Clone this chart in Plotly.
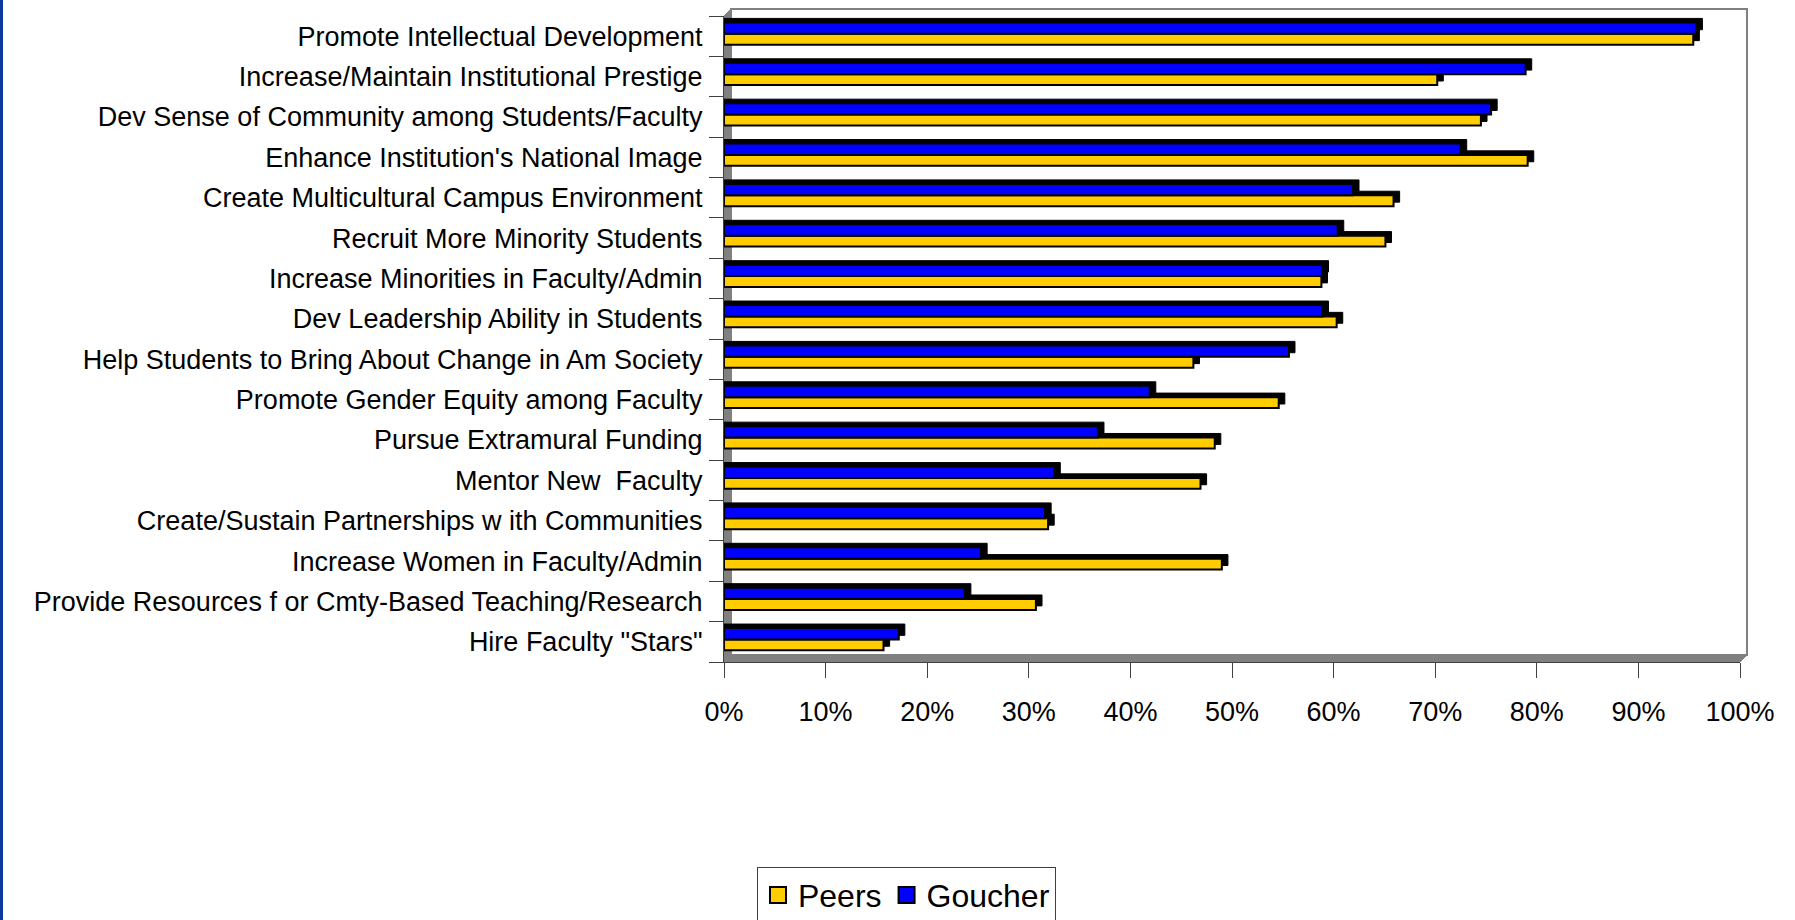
import plotly.graph_objects as go

# categories listed top to bottom as they appear in the chart
categories = [
    "Promote Intellectual Development",
    "Increase/Maintain Institutional Prestige",
    "Dev Sense of Community among Students/Faculty",
    "Enhance Institution's National Image",
    "Create Multicultural Campus Environment",
    "Recruit More Minority Students",
    "Increase Minorities in Faculty/Admin",
    "Dev Leadership Ability in Students",
    "Help Students to Bring About Change in Am Society",
    "Promote Gender Equity among Faculty",
    "Pursue Extramural Funding",
    "Mentor New  Faculty",
    "Create/Sustain Partnerships w ith Communities",
    "Increase Women in Faculty/Admin",
    "Provide Resources f or Cmty-Based Teaching/Research",
    'Hire Faculty "Stars"',
]
peers = [95.4, 70.2, 74.5, 79.1, 65.9, 65.1, 58.8, 60.3, 46.2, 54.6, 48.3, 46.9, 31.9, 49.0, 30.7, 15.7]
goucher = [95.7, 78.9, 75.5, 72.5, 61.9, 60.4, 58.9, 58.9, 55.6, 41.9, 36.8, 32.5, 31.6, 25.3, 23.7, 17.2]
x_ticks = list(range(0, 101, 10))

PEERS_COLOR = "#FFCC00"
GOUCHER_COLOR = "#0000FF"
FONT = "Arial, Liberation Sans, sans-serif"

W, H = 1795, 920
M_L, M_R, M_T, M_B = 724, 55, 16, 258
PLOT_W = W - M_L - M_R
PLOT_H = H - M_T - M_B
DX = 7 / PLOT_W  # 3d depth in paper units
DY = 7 / PLOT_H
DEPTH_X = 0.6  # how far the dark back face sticks out, in %

# plotly puts the first category at the bottom, so flip the lists
cats = categories[::-1]
peers_v = peers[::-1]
goucher_v = goucher[::-1]


def _add_bar(fig, values, name, color, offset, width):
    """Front face plus a dark back face shifted up/right for a 3d look."""
    fig.add_trace(
        go.Bar(
            y=cats,
            x=[v + DEPTH_X for v in values],
            orientation="h",
            base=0,
            offset=offset + 0.1,
            width=width,
            marker={"color": "black", "line": {"color": "black", "width": 1}},
            hoverinfo="skip",
            showlegend=False,
        )
    )
    fig.add_trace(
        go.Bar(
            y=cats,
            x=values,
            orientation="h",
            name=name,
            offset=offset,
            width=width,
            marker={"color": color, "line": {"color": "black", "width": 2}},
            showlegend=False,
        )
    )
    # legend entry with a bigger square swatch
    fig.add_trace(
        go.Scatter(
            x=[None],
            y=[None],
            mode="markers",
            name=name,
            marker={"symbol": "square", "size": 16, "color": color, "line": {"color": "black", "width": 2}},
        )
    )


fig = go.Figure()
_add_bar(fig, peers_v, "Peers", PEERS_COLOR, -0.21, 0.27)
_add_bar(fig, goucher_v, "Goucher", GOUCHER_COLOR, 0.06, 0.28)

wall_gray = "#808080"
shapes = [
    # back wall outline
    {
        "type": "rect", "xref": "paper", "yref": "paper",
        "x0": DX, "x1": 1 + DX, "y0": DY, "y1": 1 + DY,
        "line": {"color": wall_gray, "width": 2}, "layer": "below",
    },
    # left wall
    {
        "type": "path", "xref": "paper", "yref": "paper",
        "path": f"M 0,0 L 0,1 L {DX},{1 + DY} L {DX},{DY} Z",
        "fillcolor": wall_gray, "line": {"color": wall_gray, "width": 1}, "layer": "below",
    },
    # floor
    {
        "type": "path", "xref": "paper", "yref": "paper",
        "path": f"M 0,0 L 1,0 L {1 + DX},{DY} L {DX},{DY} Z",
        "fillcolor": wall_gray, "line": {"color": wall_gray, "width": 1}, "layer": "below",
    },
    # blue strip on the left edge of the slide
    {
        "type": "rect", "xref": "paper", "yref": "paper",
        "x0": -M_L / PLOT_W, "x1": (3 - M_L) / PLOT_W,
        "y0": -M_B / PLOT_H, "y1": 1 + M_T / PLOT_H,
        "fillcolor": "#0B3A9E", "line": {"width": 0},
    },
]

fig.update_layout(
    width=W,
    height=H,
    barmode="overlay",
    paper_bgcolor="white",
    plot_bgcolor="white",
    font={"family": FONT, "size": 27, "color": "black"},
    margin={"l": M_L, "r": M_R, "t": M_T, "b": M_B, "autoexpand": False},
    shapes=shapes,
    showlegend=True,
    legend={
        "orientation": "h",
        "xref": "container",
        "yref": "container",
        "x": 0.505,
        "xanchor": "center",
        "y": 0.058,
        "yanchor": "top",
        "bordercolor": "#404040",
        "borderwidth": 1,
        "font": {"size": 32},
        "traceorder": "normal",
        "itemwidth": 30,
    },
    xaxis={
        "range": [0, 100],
        "tickvals": x_ticks,
        "ticktext": [f"{v}%" for v in x_ticks],
        "showgrid": False,
        "zeroline": False,
        "showline": True,
        "linecolor": "#404040",
        "ticks": "outside",
        "ticklen": 15,
        "tickcolor": "#404040",
        "ticklabelstandoff": 11,
    },
    yaxis={
        "type": "category",
        "categoryorder": "array",
        "categoryarray": cats,
        "showgrid": False,
        "showline": True,
        "linecolor": "#404040",
        "ticks": "outside",
        "tickson": "boundaries",
        "ticklen": 14,
        "tickcolor": "#404040",
        "ticklabelstandoff": 15,
    },
)

fig.write_html(
    "out.html",
    config={"displayModeBar": False},
    post_script="document.body.style.margin = '0';",
)
